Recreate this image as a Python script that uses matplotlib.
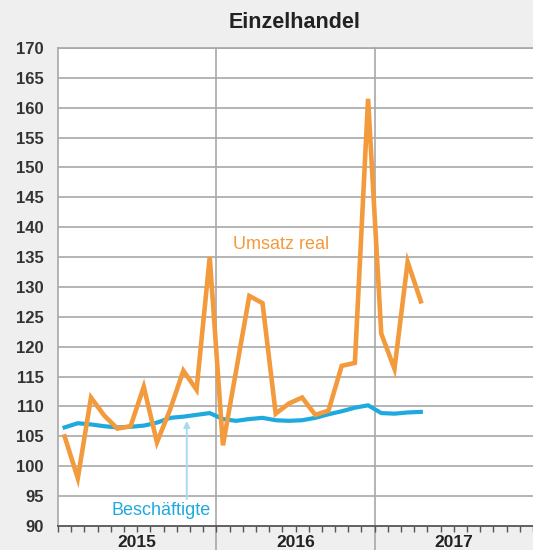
import matplotlib.pyplot as plt
import numpy as np

# Monatswerte Jan 2015 - Apr 2017
months = np.arange(28) + 0.5
umsatz_real = [105.0, 98.0, 111.5, 108.5, 106.3, 106.7, 113.3, 104.0, 109.5, 116.0, 112.8, 135.0,
               103.5, 116.0, 128.5, 127.3, 108.8, 110.5, 111.5, 108.6, 109.3, 116.8, 117.3, 161.5,
               122.2, 116.3, 134.2, 127.6]
beschaeftigte = [106.5, 107.2, 107.0, 106.7, 106.5, 106.6, 106.8, 107.3, 108.1, 108.3, 108.6, 108.9,
                 107.9, 107.6, 107.9, 108.1, 107.7, 107.6, 107.7, 108.1, 108.7, 109.2, 109.8, 110.2,
                 108.9, 108.8, 109.0, 109.1]
years = ['2015', '2016', '2017']
yticks = list(range(90, 171, 5))

orange = '#f39a3c'
blue = '#1eaadf'
grid_col = '#a8a8a8'
bg = '#efefef'

plt.rcParams['font.family'] = ['Liberation Sans', 'DejaVu Sans']

fig = plt.figure(figsize=(5.33, 5.5), dpi=100, facecolor=bg)
ax = fig.add_axes([58 / 533, 24 / 550, 475 / 533, 478 / 550])
ax.set_facecolor('white')

ax.set_xlim(0, 36)
ax.set_ylim(90, 170)

# horizontal grid
for y in yticks[1:]:
    ax.axhline(y, color=grid_col, lw=1.2, zorder=1)

# year dividers, reaching down into the label area
for xv in [12, 24]:
    ax.axvline(xv, ymin=-0.06, ymax=1, color=grid_col, lw=1.2, zorder=1, clip_on=False)

ax.plot(months, beschaeftigte, color=blue, lw=3.0, zorder=3, solid_joinstyle='round')
ax.plot(months, umsatz_real, color=orange, lw=3.3, zorder=4, solid_joinstyle='miter')

ax.text(16.9, 137.1, 'Umsatz real', color=orange, fontsize=13, ha='center', va='center')
ax.text(7.8, 92.6, 'Beschäftigte', color=blue, fontsize=13, ha='center', va='center', zorder=5)
ax.annotate('', xy=(9.76, 107.6), xytext=(9.76, 94.5),
            arrowprops=dict(arrowstyle='-|>', color='#a9daf2', lw=1.4,
                            mutation_scale=9, shrinkA=0, shrinkB=0), zorder=2)

for side in ['left', 'top']:
    ax.spines[side].set_color(grid_col)
    ax.spines[side].set_linewidth(1.2)
ax.spines['right'].set_visible(False)
ax.spines['bottom'].set_color('#555555')
ax.spines['bottom'].set_linewidth(1.3)

ax.set_yticks(yticks)
ax.set_yticklabels([str(v) for v in yticks], fontsize=12, fontweight='bold', color='#333333')
ax.tick_params(axis='y', length=0, pad=10.5)

ax.set_xticks(np.arange(0, 37, 1))
ax.set_xticklabels([])
ax.tick_params(axis='x', direction='out', length=4.5, width=1, color='#555555')

for i, yr in enumerate(years):
    ax.text(6 + 12 * i, -0.035, yr, transform=ax.get_xaxis_transform(),
            fontsize=12.5, fontweight='bold', color='#222222', ha='center', va='center')

fig.text(295 / 533, 1 - 22 / 550, 'Einzelhandel', fontsize=15.5, fontweight='bold',
         color='#222222', ha='center', va='center')

fig.savefig('out.png', dpi=100, facecolor=bg)
